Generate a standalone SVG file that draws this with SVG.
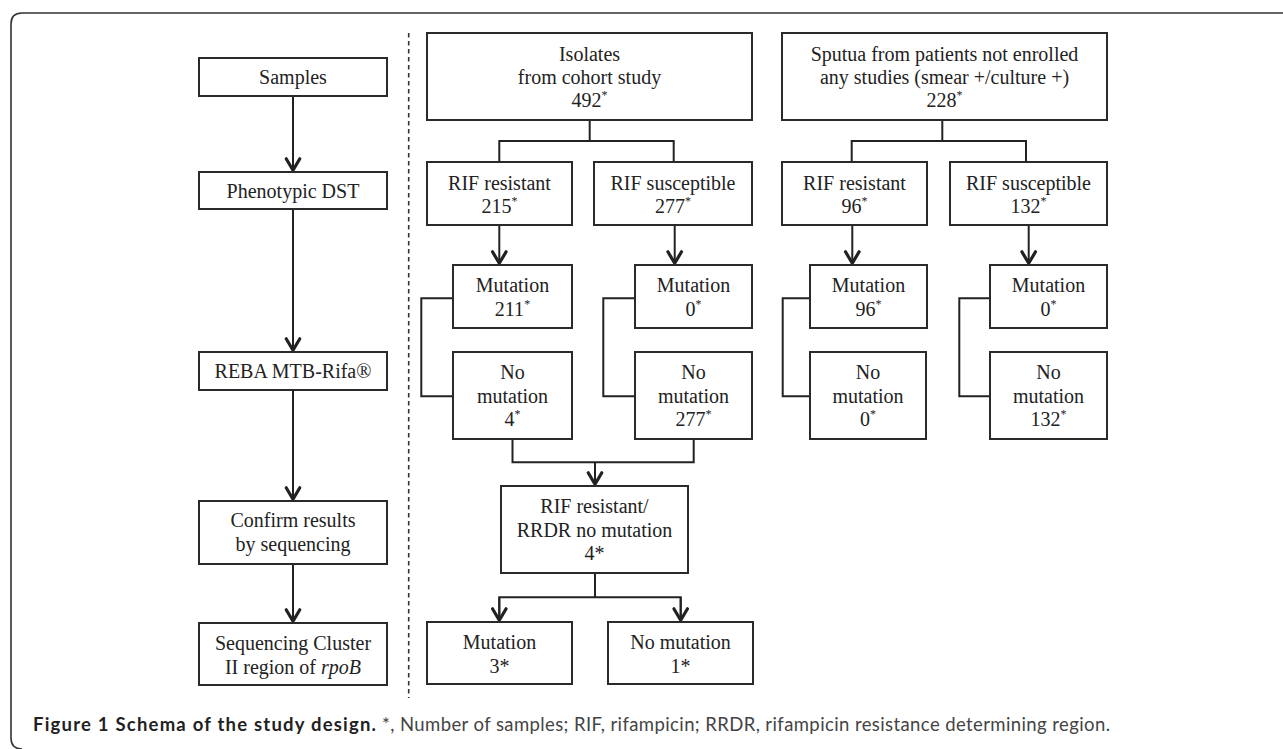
<svg xmlns="http://www.w3.org/2000/svg" width="1283" height="749" viewBox="0 0 1283 749">
<style>
.box{fill:#fff;stroke:#2a2a2a;stroke-width:2}
.t{font-family:"Liberation Serif","Times New Roman",serif;font-size:20px;fill:#222;text-anchor:middle}
.sup{font-size:12px}
.ln{fill:none;stroke:#222;stroke-width:2}
.cap{font-family:Lato,"Open Sans","Liberation Sans",sans-serif;font-size:18.5px}
</style>
<defs>
<marker id="ah" viewBox="-15 -10 18 20" refX="0" refY="0" markerWidth="18" markerHeight="20" markerUnits="userSpaceOnUse" orient="auto">
<path d="M -11.5 -6.8 L 0 0 L -11.5 6.8" fill="none" stroke="#222" stroke-width="3.2" stroke-linejoin="round" stroke-linecap="round"/>
</marker>
</defs>
<rect width="1283" height="749" fill="#fff"/>
<path d="M 1290 13 H 22 Q 11 13 11 24 V 738 Q 11 749 22 749" fill="none" stroke="#333" stroke-width="1.6"/>
<line x1="408.7" y1="33" x2="408.7" y2="698" stroke="#333" stroke-width="1.6" stroke-dasharray="4.5 3.5"/>

<g id="connectors">
<line class="ln" x1="293" y1="96" x2="293" y2="170.3" marker-end="url(#ah)"/>
<line class="ln" x1="293" y1="209" x2="293" y2="350.3" marker-end="url(#ah)"/>
<line class="ln" x1="293" y1="390" x2="293" y2="499.3" marker-end="url(#ah)"/>
<line class="ln" x1="293" y1="564" x2="293" y2="621.3" marker-end="url(#ah)"/>

<polyline class="ln" points="589.7,120 589.7,141"/>
<polyline class="ln" points="499.3,162 499.3,141 673.7,141 673.7,162"/>
<line class="ln" x1="499.3" y1="225" x2="499.3" y2="263.3" marker-end="url(#ah)"/>
<line class="ln" x1="674.7" y1="225" x2="674.7" y2="263.3" marker-end="url(#ah)"/>
<polyline class="ln" points="453,298.3 421.3,298.3 421.3,396.3 453,396.3"/>
<polyline class="ln" points="635.3,298.3 603.3,298.3 603.3,396.3 635.3,396.3"/>
<polyline class="ln" points="512.5,439 512.5,462.3 693.7,462.3 693.7,439"/>
<line class="ln" x1="595" y1="462.3" x2="595" y2="484.3" marker-end="url(#ah)"/>
<polyline class="ln" points="595,573 595,597.3"/>
<polyline class="ln" points="499.3,620 499.3,597.3 680.7,597.3 680.7,620"/>
<line class="ln" x1="499.3" y1="597.3" x2="499.3" y2="620.3" marker-end="url(#ah)"/>
<line class="ln" x1="680.7" y1="597.3" x2="680.7" y2="620.3" marker-end="url(#ah)"/>

<polyline class="ln" points="942.3,120 942.3,141"/>
<polyline class="ln" points="851.7,162 851.7,141 1026,141 1026,162"/>
<line class="ln" x1="852.3" y1="225" x2="852.3" y2="263.3" marker-end="url(#ah)"/>
<line class="ln" x1="1028.7" y1="225" x2="1028.7" y2="263.3" marker-end="url(#ah)"/>
<polyline class="ln" points="810,298.3 782.7,298.3 782.7,396.3 810,396.3"/>
<polyline class="ln" points="990.3,298.3 959.3,298.3 959.3,396.3 990.3,396.3"/>
</g>

<g id="samples"><rect class="box" x="199" y="58" width="188" height="38"/><text class="t" x="293" y="84">Samples</text></g>
<g id="phenotypic"><rect class="box" x="199" y="172" width="188" height="37"/><text class="t" x="293" y="198">Phenotypic DST</text></g>
<g id="reba"><rect class="box" x="199" y="352" width="188" height="38"/><text class="t" x="293" y="378">REBA MTB-Rifa®</text></g>
<g id="confirm"><rect class="box" x="199" y="501" width="188" height="63"/><text class="t" x="293" y="527">Confirm results</text><text class="t" x="293" y="551">by sequencing</text></g>
<g id="seqcluster"><rect class="box" x="199" y="623" width="188" height="62"/><text class="t" x="293" y="650">Sequencing Cluster</text><text class="t" x="293" y="674">II  region of <tspan font-style="italic">rpoB</tspan></text></g>

<g id="isolates"><rect class="box" x="427" y="33" width="325" height="87"/><text class="t" x="589.5" y="61">Isolates</text><text class="t" x="589.5" y="84">from cohort study</text><text class="t" x="589.5" y="107">492<tspan class="sup" dy="-8">*</tspan></text></g>
<g id="rifres1"><rect class="box" x="427" y="162" width="145" height="63"/><text class="t" x="499.5" y="190">RIF resistant</text><text class="t" x="499.5" y="213">215<tspan class="sup" dy="-8">*</tspan></text></g>
<g id="rifsus1"><rect class="box" x="594" y="162" width="158" height="63"/><text class="t" x="673" y="190">RIF susceptible</text><text class="t" x="673" y="213">277<tspan class="sup" dy="-8">*</tspan></text></g>
<g id="mut211"><rect class="box" x="453" y="265" width="119" height="63"/><text class="t" x="512.5" y="292">Mutation</text><text class="t" x="512.5" y="316">211<tspan class="sup" dy="-8">*</tspan></text></g>
<g id="mut0a"><rect class="box" x="635" y="265" width="117" height="63"/><text class="t" x="693.5" y="292">Mutation</text><text class="t" x="693.5" y="316">0<tspan class="sup" dy="-8">*</tspan></text></g>
<g id="nomut4"><rect class="box" x="453" y="352" width="119" height="87"/><text class="t" x="512.5" y="379">No</text><text class="t" x="512.5" y="403">mutation</text><text class="t" x="512.5" y="426">4<tspan class="sup" dy="-8">*</tspan></text></g>
<g id="nomut277"><rect class="box" x="635" y="352" width="117" height="87"/><text class="t" x="693.5" y="379">No</text><text class="t" x="693.5" y="403">mutation</text><text class="t" x="693.5" y="426">277<tspan class="sup" dy="-8">*</tspan></text></g>
<g id="rrdr"><rect class="box" x="501" y="486" width="187" height="87"/><text class="t" x="594.5" y="513">RIF resistant/</text><text class="t" x="594.5" y="537">RRDR no mutation</text><text class="t" x="594.5" y="560">4*</text></g>
<g id="mut3"><rect class="box" x="427" y="622" width="145" height="62"/><text class="t" x="499.5" y="649">Mutation</text><text class="t" x="499.5" y="673">3*</text></g>
<g id="nomut1"><rect class="box" x="608" y="622" width="145" height="62"/><text class="t" x="680.5" y="649">No mutation</text><text class="t" x="680.5" y="673">1*</text></g>

<g id="sputua"><rect class="box" x="782" y="33" width="325" height="87"/><text class="t" x="944.5" y="61">Sputua from patients not enrolled</text><text class="t" x="944.5" y="84">any studies (smear +/culture +)</text><text class="t" x="944.5" y="107">228<tspan class="sup" dy="-8">*</tspan></text></g>
<g id="rifres2"><rect class="box" x="782" y="162" width="145" height="63"/><text class="t" x="854.5" y="190">RIF resistant</text><text class="t" x="854.5" y="213">96<tspan class="sup" dy="-8">*</tspan></text></g>
<g id="rifsus2"><rect class="box" x="950" y="162" width="157" height="63"/><text class="t" x="1028.5" y="190">RIF susceptible</text><text class="t" x="1028.5" y="213">132<tspan class="sup" dy="-8">*</tspan></text></g>
<g id="mut96"><rect class="box" x="810" y="265" width="117" height="63"/><text class="t" x="868.5" y="292">Mutation</text><text class="t" x="868.5" y="316">96<tspan class="sup" dy="-8">*</tspan></text></g>
<g id="nomut0"><rect class="box" x="810" y="352" width="116" height="87"/><text class="t" x="868" y="379">No</text><text class="t" x="868" y="403">mutation</text><text class="t" x="868" y="426">0<tspan class="sup" dy="-8">*</tspan></text></g>
<g id="mut0b"><rect class="box" x="990" y="265" width="117" height="63"/><text class="t" x="1048.5" y="292">Mutation</text><text class="t" x="1048.5" y="316">0<tspan class="sup" dy="-8">*</tspan></text></g>
<g id="nomut132"><rect class="box" x="990" y="352" width="117" height="87"/><text class="t" x="1048.5" y="379">No</text><text class="t" x="1048.5" y="403">mutation</text><text class="t" x="1048.5" y="426">132<tspan class="sup" dy="-8">*</tspan></text></g>

<g id="caption">
<text class="cap" x="33" y="731" font-weight="bold" fill="#222" textLength="343" lengthAdjust="spacing">Figure 1 Schema of the study design.</text>
<text class="cap" x="382" y="731" fill="#444" textLength="728" lengthAdjust="spacing">*, Number of samples; RIF, rifampicin; RRDR, rifampicin resistance determining region.</text>
</g>
</svg>
